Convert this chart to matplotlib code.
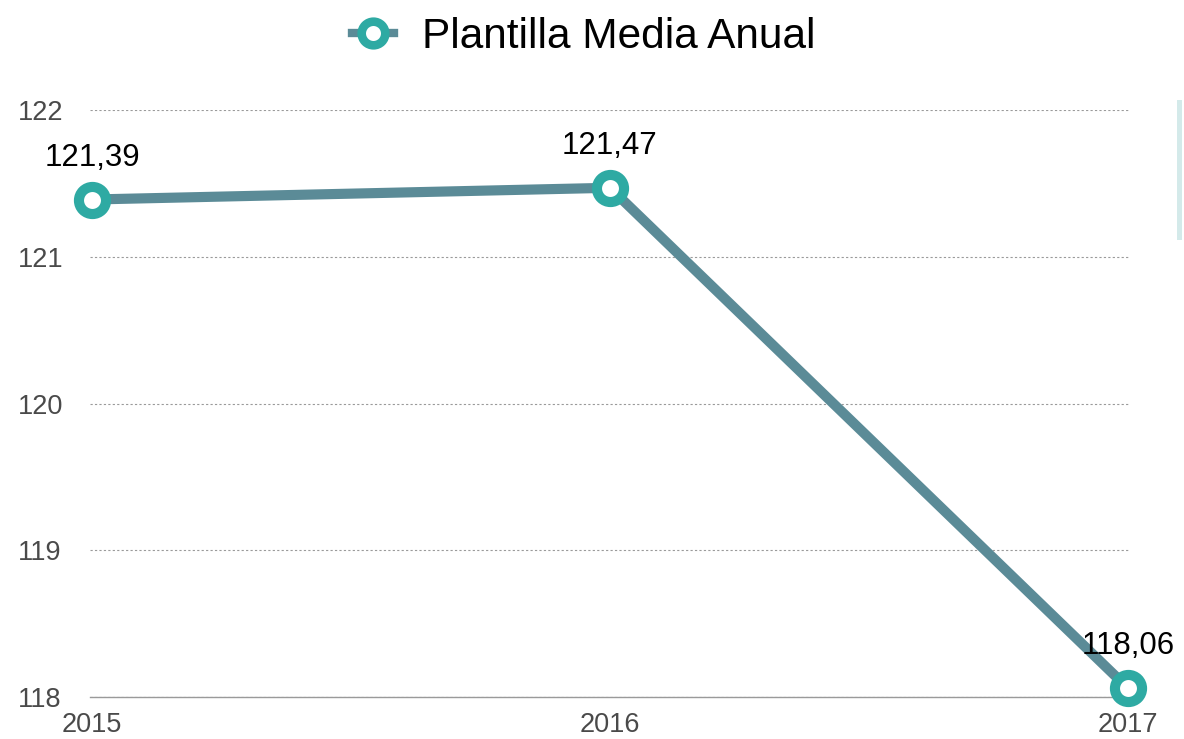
import matplotlib
matplotlib.use("Agg")
import matplotlib.pyplot as plt
from matplotlib.lines import Line2D
from matplotlib.patches import Rectangle

# data
years = ["2015", "2016", "2017"]
plantilla = [121.39, 121.47, 118.06]
yticks = [118, 119, 120, 121, 122]

line_col = "#5b8b97"
mark_col = "#2eaaa3"

plt.rcParams['font.family'] = ['Liberation Sans', 'DejaVu Sans']

fig = plt.figure(figsize=(11.84, 7.39), dpi=100, facecolor='white')
ax = fig.add_axes([90/1184, 1-697/739, 1040/1184, (697-110)/739])

xs = list(range(len(years)))
ax.plot(xs, plantilla, color=line_col, lw=7.3, solid_capstyle='butt', zorder=3)
ax.plot(xs, plantilla, ls='none', marker='o', ms=19.5, mfc='white',
        mec=mark_col, mew=7.3, zorder=4, clip_on=False)

for x, v in zip(xs, plantilla):
    ax.annotate(f"{v:.2f}".replace('.', ','), (x, v), xytext=(0, 42),
                textcoords='offset pixels', ha='center', va='center',
                fontsize=22.5, color='black')

ax.set_xlim(-2/1036*2, 2 + 2/1036*2)
ax.set_ylim(118, 122)
ax.set_yticks(yticks)
ax.set_yticklabels([str(t) for t in yticks])
ax.set_xticks(xs)
ax.set_xticklabels(years)
ax.grid(axis='y', ls=(0, (2, 2)), color='#9a9a9a', lw=0.8)
ax.set_axisbelow(True)
for s in ['top', 'right', 'left']:
    ax.spines[s].set_visible(False)
ax.spines['bottom'].set_color('#9a9a9a')
ax.spines['bottom'].set_linewidth(1)
ax.tick_params(axis='both', length=0, labelsize=19.5, labelcolor='#4a4a4a')
ax.tick_params(axis='x', pad=11)
for lab in ax.get_yticklabels():
    lab.set_horizontalalignment('left')
ax.tick_params(axis='y', pad=52)

handle = Line2D([], [], color=line_col, lw=6, marker='o', ms=17, mfc='white',
                mec=mark_col, mew=6.2)
fig.legend([handle], ["Plantilla Media Anual"], loc='center',
           bbox_to_anchor=(0.493, 1-37/739), frameon=False, fontsize=30.5,
           handlelength=1.0, handletextpad=0.65)

# faint bar at right edge
fig.patches.append(Rectangle((1177/1184, 1-240/739), 5/1184, 140/739,
                             transform=fig.transFigure, color='#d4eaea', lw=0))

fig.savefig("out.png", dpi=100, facecolor='white')
